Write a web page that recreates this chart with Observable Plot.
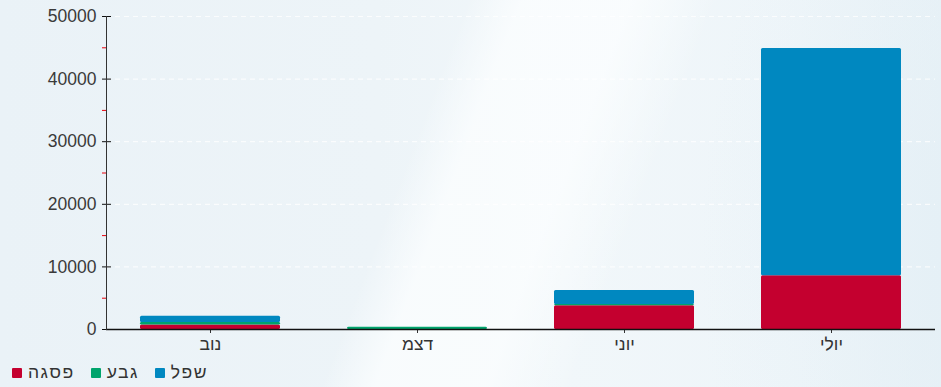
<!DOCTYPE html>
<html><head><meta charset="utf-8">
<script src="https://cdn.jsdelivr.net/npm/d3@7"></script>
<script src="https://cdn.jsdelivr.net/npm/@observablehq/plot@0.6"></script>
<style>
html,body{margin:0;padding:0;}
body{width:941px;height:387px;overflow:hidden;font-family:"Liberation Sans",sans-serif;
background:
 linear-gradient(110.8deg, rgba(255,255,255,0) 0%, rgba(255,255,255,0) 43%, rgba(252,254,255,0.75) 48%, rgba(252,254,255,0.75) 58%, rgba(255,255,255,0) 66%, rgba(255,255,255,0) 100%),
 radial-gradient(ellipse 300px 500px at 1000px 250px, rgba(225,238,245,0.6) 0%, rgba(225,238,245,0) 100%),
 linear-gradient(90deg,#eaf2f7 0%,#edf4f8 40%,#f1f7fa 60%,#eef5f9 85%,#e9f2f7 100%);}
#chart svg{display:block;background:transparent;}
#legend{display:flex;align-items:center;height:29px;padding-left:12px;font-size:17.5px;color:#333;}
.item{display:flex;align-items:center;margin-right:16px;}
.item span{letter-spacing:1.5px;}
.sw{width:10px;height:10px;margin-right:6px;border-radius:1px;}
</style></head>
<body>
<div id="chart"></div>
<div id="legend"></div>
<script>
const months = ["נוב","דצמ","יוני","יולי"];
const seriesNames = ["פסגה","גבע","שפל"];
const peak = [700, 0, 3800, 8600];
const hill = [400, 350, 200, 0];
const trough = [1000, 0, 2250, 36300];
const colors = ["#c4002f","#00a46c","#0088c0"];
const majorTicks = [0,10000,20000,30000,40000,50000];
const minorTicks = [5000,15000,25000,35000,45000];

const data = [];
months.forEach((m,i)=>{
  data.push({month:m, series:seriesNames[0], value:peak[i]});
  data.push({month:m, series:seriesNames[1], value:hill[i]});
  data.push({month:m, series:seriesNames[2], value:trough[i]});
});

const plot = Plot.plot({
  width: 941, height: 358,
  marginLeft: 106, marginRight: 6, marginTop: 16, marginBottom: 29,
  style: {background:"transparent", fontFamily:"Liberation Sans, sans-serif", fontSize:"17.5px", color:"#333"},
  x: {domain: months, paddingInner: 0.325, paddingOuter: 0.16, label: null},
  y: {domain: [0,50000], label: null},
  color: {domain: seriesNames, range: colors},
  marks: [
    Plot.ruleY(majorTicks.slice(1), {stroke:"#ffffff", strokeWidth:1.2, strokeDasharray:"5,4", strokeOpacity:0.75}),
    Plot.barY(data, {x:"month", y:"value", fill:"series", order: seriesNames, rx: 1.5}),
    Plot.axisY({ticks: majorTicks, tickSize: 9, dx: 5, tickPadding: 6, tickFormat: d=>String(d), fill:"#3a3a3a", stroke:"#111", fontSize: 17.5}),
    Plot.axisY({ticks: minorTicks, tickSize: 5, dx: 1, tickFormat: ()=>"", stroke:"#e8000b"}),
    Plot.axisX({tickSize: 4, tickPadding: 4, fontSize: 17.5, fill:"#333", stroke:"#333"}),
    Plot.ruleY([0], {stroke:"#111", strokeWidth:1.3}),
    Plot.frame({anchor:"left", stroke:"#333"})
  ]
});
document.getElementById("chart").appendChild(plot);

const lg = document.getElementById("legend");
seriesNames.forEach((s,i)=>{
  const it = document.createElement("div"); it.className="item";
  const sw = document.createElement("div"); sw.className="sw"; sw.style.background=colors[i];
  const tx = document.createElement("span"); tx.textContent = s;
  it.appendChild(sw); it.appendChild(tx); lg.appendChild(it);
});
</script>
</body></html>
